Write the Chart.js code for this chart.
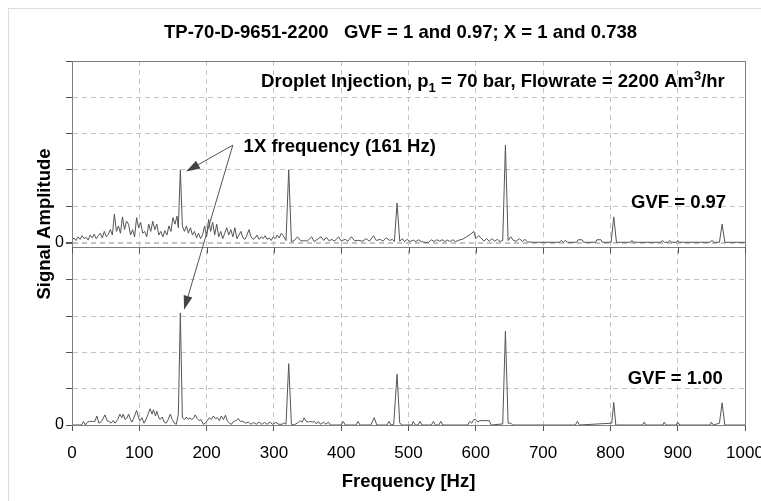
<!DOCTYPE html>
<html>
<head>
<meta charset="utf-8">
<script src="https://cdn.jsdelivr.net/npm/chart.js@4.4.1/dist/chart.umd.min.js"></script>
<style>
  body { margin: 0; background: #fff; }
  canvas { display: block; }
</style>
</head>
<body>
<canvas id="spectrum" width="761" height="501"></canvas>
<script>
// [frequency Hz, amplitude], GVF = 0.97 (upper panel)
const gvf097 = [
  [0,0.05],[3,0.12],[6,0.05],[9,0.15],[12,0.08],[15,0.18],[18,0.1],[21,0.14],[24,0.06],[27,0.2],
  [30,0.12],[33,0.22],[36,0.1],[39,0.18],[42,0.25],[45,0.12],[48,0.3],[51,0.15],[54,0.22],[57,0.35],
  [60,0.2],[63,0.78],[66,0.3],[69,0.45],[72,0.25],[75,0.7],[78,0.35],[81,0.58],[84,0.5],[87,0.2],
  [90,0.35],[93,0.15],[96,0.68],[99,0.4],[102,0.55],[105,0.25],[108,0.3],[111,0.15],[114,0.5],[117,0.3],
  [120,0.58],[123,0.35],[126,0.5],[129,0.2],[132,0.3],[135,0.15],[138,0.32],[141,0.2],[144,0.45],[147,0.3],
  [150,0.68],[153,0.5],[156,0.72],[158,0.4],[161,2.0],[164,0.45],[167,0.3],[170,0.45],[173,0.25],[176,0.4],
  [179,0.2],[182,0.3],[185,0.12],[188,0.25],[191,0.1],[194,0.2],[197,0.45],[200,0.15],[203,0.63],[206,0.3],
  [209,0.55],[212,0.2],[215,0.5],[218,0.15],[221,0.3],[224,0.1],[227,0.25],[230,0.4],[233,0.2],[236,0.35],
  [239,0.15],[242,0.4],[245,0.1],[248,0.2],[251,0.3],[254,0.12],[257,0.08],[260,0.2],[263,0.35],[266,0.15],
  [269,0.08],[272,0.12],[275,0.2],[278,0.08],[281,0.15],[284,0.1],[287,0.18],[290,0.08],[293,0.12],[296,0.05],
  [299,0.15],[302,0.1],[305,0.2],[308,0.12],[311,0.25],[314,0.18],[318,0.05],[322,2.0],[326,0.02],[330,0.04],
  [335,0.15],[340,0.04],[345,0.04],[350,0.04],[356,0.15],[360,0.02],[366,0.1],[370,0.15],[374,0.05],[378,0.14],
  [382,0.04],[386,0.08],[390,0.03],[396,0.15],[400,0.04],[406,0.08],[410,0.03],[415,0.15],[420,0.04],[426,0.05],
  [432,0.03],[437,0.1],[442,0.03],[448,0.18],[452,0.05],[458,0.08],[462,0.03],[467,0.12],[472,0.05],[476,0.08],
  [479,0.02],[483,1.08],[487,0.03],[491,0.1],[494,0.02],[498,0.08],[502,0.02],[507,0.06],[511,0.02],[515,0.07],
  [519,0.02],[523,0],[530,0],[534,0.07],[538,0.02],[542,0.07],[546,0.03],[550,0.07],[554,0.02],[558,0.06],
  [562,0.02],[566,0.07],[570,0.02],[575,0.06],[580,0.08],[586,0.15],[592,0.22],[597,0.3],[600,0.1],[604,0.18],
  [608,0.12],[612,0.03],[616,0.1],[620,0.03],[624,0.1],[628,0.03],[632,0.08],[636,0.02],[640,0.05],[644,2.68],
  [648,0.05],[652,0.15],[656,0.05],[660,0.03],[665,0.1],[669,0.02],[673,0.08],[677,0.01],[685,0],[724,0],
  [727,0.05],[730,0],[733,0.05],[736,0],[750,0],[752,0.07],[758,0.07],[760,0],[778,0],[780,0.07],
  [786,0.07],[788,0],[801,0],[805,0.7],[809,0],[830,0],[832,0.05],[834,0],[875,0],[877,0.05],
  [880,0],[886,0],[888,0.05],[891,0],[898,0],[900,0.05],[902,0],[948,0],[951,0.05],[954,0],
  [962,0],[966,0.5],[970,0],[1000,0]
];

// GVF = 1.00 (lower panel)
const gvf100 = [
  [0,0],[14,0],[17,0.1],[20,0],[23,0.08],[26,0.1],[30,0.1],[34,0.1],[37,0.25],[40,0.05],
  [44,0.1],[49,0.28],[52,0.12],[55,0.1],[58,0.05],[61,0.12],[64,0.05],[68,0.15],[71,0.3],[74,0.2],
  [76,0.3],[79,0.15],[82,0.2],[84,0.3],[87,0.15],[89,0.08],[92,0.2],[96,0.4],[99,0.2],[101,0.12],
  [104,0.2],[107,0.05],[110,0.15],[113,0.3],[116,0.45],[119,0.3],[121,0.42],[124,0.25],[126,0.38],[129,0.2],
  [131,0.15],[134,0.22],[137,0.08],[140,0.05],[143,0.15],[146,0.3],[149,0.15],[152,0.05],[155,0.02],[158,0.3],
  [161,3.09],[164,0.2],[167,0.15],[170,0.22],[173,0.15],[175,0.2],[178,0.15],[181,0.2],[183,0.28],[186,0.18],
  [189,0.12],[192,0.15],[195,0.02],[198,0.05],[201,0.12],[204,0.2],[207,0.15],[210,0.25],[213,0.18],[216,0.2],
  [219,0.12],[222,0.25],[225,0.15],[228,0.27],[231,0.1],[234,0.05],[237,0.02],[240,0.1],[244,0.12],[247,0.18],
  [250,0.1],[254,0.1],[258,0.05],[262,0.08],[266,0.02],[270,0.07],[274,0.02],[278,0.08],[282,0.02],[286,0.07],
  [290,0.02],[294,0.08],[298,0.02],[303,0.07],[307,0.02],[312,0.02],[315,0.06],[318,0.02],[322,1.69],[326,0.02],
  [330,0],[336,0.07],[339,0.12],[342,0.08],[345,0.2],[348,0.1],[351,0.08],[354,0.1],[357,0.08],[360,0.1],
  [363,0.03],[366,0.1],[369,0.02],[374,0.08],[377,0.02],[381,0.08],[384,0],[400,0],[403,0.1],[406,0],
  [422,0],[425,0.1],[428,0],[444,0],[449,0.2],[453,0],[468,0],[471,0.1],[474,0],[478,0.02],
  [483,1.4],[487,0.05],[491,0],[505,0],[507,0.1],[510,0],[514,0],[517,0.1],[520,0],[534,0],
  [537,0.1],[540,0],[545,0],[548,0.1],[551,0],[588,0],[591,0.1],[594,0.05],[597,0.15],[600,0.15],
  [603,0.08],[606,0.12],[620,0.12],[623,0],[640,0.03],[644,2.59],[648,0.05],[652,0.05],[655,0],[748,0],
  [751,0.1],[754,0],[802,0.05],[805,0.62],[808,0],[848,0],[850,0.08],[853,0],[878,0],[880,0.08],
  [883,0],[898,0],[900,0.08],[903,0],[948,0],[950,0.08],[953,0],[962,0.05],[966,0.61],[970,0],
  [1000,0]
];

const amplitudeTicks = [0, 1, 2, 3, 4, 5];
const chartTitle = 'TP-70-D-9651-2200   GVF = 1 and 0.97; X = 1 and 0.738';

const FONT = '"Liberation Sans", Arial, sans-serif';
const LINE = '#555555';
const FRAME = '#7f7f7f';
const GRID = '#c4c4c4';
const BOLD = 18.5;

function drawRuns(ctx, runs, x, y, size, align) {
    // runs: [text, shift]  shift -1 = subscript, 1 = superscript
    const small = Math.round(size * 0.68);
    let w = 0;
    runs.forEach(r => {
        ctx.font = 'bold ' + (r[1] ? small : size) + 'px ' + FONT;
        w += ctx.measureText(r[0]).width;
    });
    let cx = align === 'right' ? x - w : align === 'center' ? x - w / 2 : x;
    runs.forEach(r => {
        ctx.font = 'bold ' + (r[1] ? small : size) + 'px ' + FONT;
        const dy = r[1] === -1 ? size * 0.32 : r[1] === 1 ? -size * 0.32 : 0;
        ctx.fillText(r[0], cx, y + dy);
        cx += ctx.measureText(r[0]).width;
    });
}

function arrow(ctx, x1, y1, x2, y2) {
    const a = Math.atan2(y2 - y1, x2 - x1);
    const len = 14, half = 4.5;
    const bx = x2 - len * Math.cos(a), by = y2 - len * Math.sin(a);
    ctx.beginPath();
    ctx.moveTo(x1, y1);
    ctx.lineTo(bx, by);
    ctx.stroke();
    ctx.beginPath();
    ctx.moveTo(x2, y2);
    ctx.lineTo(bx + half * Math.sin(a), by - half * Math.cos(a));
    ctx.lineTo(bx - half * Math.sin(a), by + half * Math.cos(a));
    ctx.closePath();
    ctx.fill();
}

const decorations = {
    id: 'decorations',
    beforeDraw(chart) {
        const ctx = chart.ctx;
        ctx.save();
        ctx.fillStyle = '#fff';
        ctx.fillRect(0, 0, chart.width, chart.height);
        ctx.strokeStyle = '#dddddd';
        ctx.strokeRect(8.5, 8.5, chart.width + 20, chart.height + 20);
        ctx.restore();
    },
    afterDatasetsDraw(chart) {
        const ctx = chart.ctx;
        const {left, right} = chart.chartArea;
        const x = chart.scales.x, yt = chart.scales.yTop, yb = chart.scales.yBot;
        ctx.save();
        // panel frames
        ctx.strokeStyle = FRAME;
        ctx.lineWidth = 1;
        [yt, yb].forEach(s => {
            ctx.strokeRect(Math.round(left) + 0.5, Math.round(s.top) + 0.5,
                Math.round(right - left), Math.round(s.bottom - s.top));
        });
        // upper panel x ticks pointing down
        ctx.strokeStyle = LINE;
        x.ticks.forEach(t => {
            const px = Math.round(x.getPixelForValue(t.value)) + 0.5;
            ctx.beginPath();
            ctx.moveTo(px, yt.bottom);
            ctx.lineTo(px, yt.bottom + 6);
            ctx.stroke();
        });

        ctx.fillStyle = '#000';
        ctx.textBaseline = 'middle';
        ctx.textAlign = 'left';
        // title
        drawRuns(ctx, [[chartTitle, 0]], (left + right) / 2 - 8, 33, BOLD, 'center');
        // y title
        ctx.save();
        ctx.translate(45, (yt.top + yb.bottom) / 2 - 19);
        ctx.rotate(-Math.PI / 2);
        drawRuns(ctx, [['Signal Amplitude', 0]], 0, 0, BOLD, 'center');
        ctx.restore();

        drawRuns(ctx, [['Droplet Injection, p', 0], ['1', -1], [' = 70 bar, Flowrate = 2200 Am', 0], ['3', 1], ['/hr', 0]],
            x.getPixelForValue(970), yt.getPixelForValue(4.42), BOLD, 'right');
        drawRuns(ctx, [['1X frequency (161 Hz)', 0]], x.getPixelForValue(255), yt.getPixelForValue(2.62), BOLD, 'left');
        drawRuns(ctx, [['GVF = 0.97', 0]], x.getPixelForValue(972), yt.getPixelForValue(1.08), BOLD, 'right');
        drawRuns(ctx, [['GVF = 1.00', 0]], x.getPixelForValue(967), yb.getPixelForValue(1.26), BOLD, 'right');

        // arrows to the 1X peaks
        ctx.strokeStyle = '#555';
        ctx.fillStyle = '#444';
        ctx.lineWidth = 1;
        const sx = x.getPixelForValue(239), sy = yt.getPixelForValue(2.68);
        arrow(ctx, sx, sy, x.getPixelForValue(169.5), yt.getPixelForValue(1.95));
        arrow(ctx, sx, sy, x.getPixelForValue(166.5), yb.getPixelForValue(3.18));
        ctx.restore();
    }
};

function amplitudeAxis(min, max, weight) {
    return {
        type: 'linear',
        position: 'left',
        stack: 'panels',
        stackWeight: weight,
        min: min,
        max: max,
        afterBuildTicks: axis => { axis.ticks = amplitudeTicks.map(v => ({value: v})); },
        afterFit: axis => { axis.width = 72; },
        ticks: {
            color: '#000',
            padding: 2,
            autoSkip: false,
            font: {family: FONT, size: 16},
            callback: v => (v === 0 ? '0' : '')
        },
        grid: {color: GRID, tickColor: LINE, tickLength: 6},
        border: {color: FRAME, dash: [5, 4]}
    };
}

new Chart(document.getElementById('spectrum'), {
    type: 'scatter',
    data: {
        datasets: [
            {
                label: 'GVF = 0.97',
                data: gvf097.map(p => ({x: p[0], y: p[1]})),
                yAxisID: 'yTop',
                showLine: true,
                borderColor: LINE,
                borderWidth: 1,
                pointRadius: 0,
                pointHoverRadius: 0
            },
            {
                label: 'GVF = 1.00',
                data: gvf100.map(p => ({x: p[0], y: p[1]})),
                yAxisID: 'yBot',
                showLine: true,
                borderColor: LINE,
                borderWidth: 1,
                pointRadius: 0,
                pointHoverRadius: 0
            }
        ]
    },
    options: {
        responsive: false,
        animation: false,
        events: [],
        layout: {padding: {top: 61, right: 16, bottom: 0, left: 0}},
        plugins: {legend: {display: false}, tooltip: {enabled: false}},
        scales: {
            x: {
                type: 'linear',
                min: 0,
                max: 1000,
                afterFit: axis => { axis.height = 76; axis.paddingLeft = 0; axis.paddingRight = 0; },
                ticks: {
                    stepSize: 100,
                    color: '#000',
                    padding: 12,
                    maxRotation: 0,
                    autoSkip: false,
                    font: {family: FONT, size: 17},
                    callback: v => String(v)
                },
                grid: {color: GRID, tickColor: LINE, tickLength: 6},
                border: {color: FRAME, dash: [5, 4]},
                title: {
                    display: true,
                    text: 'Frequency [Hz]',
                    color: '#000',
                    padding: {top: 0, bottom: 8},
                    font: {family: FONT, size: BOLD, weight: 'bold'}
                }
            },
            // stacked axes are placed bottom-up in declaration order
            yBot: amplitudeAxis(0, 4.9, 4.9),
            yTop: amplitudeAxis(-0.14, 5, 5.14)
        }
    },
    plugins: [decorations]
});
</script>
</body>
</html>
